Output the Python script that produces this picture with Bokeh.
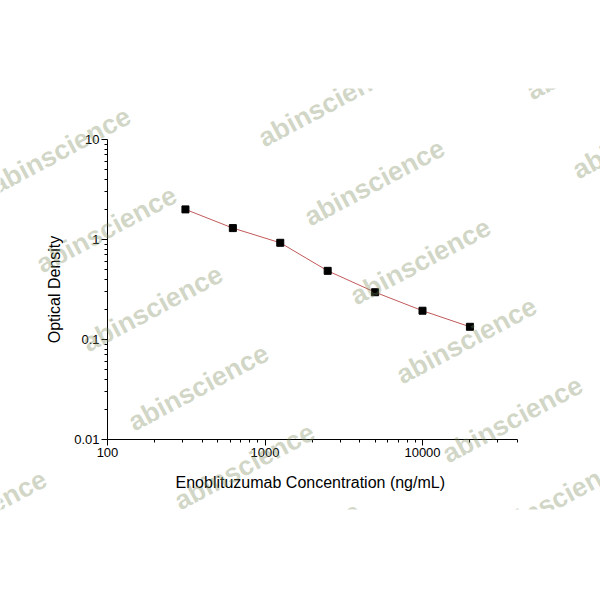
from bokeh.plotting import figure
from bokeh.models import Range1d, FixedTicker, CustomJSTickFormatter, Label, BoxAnnotation
from bokeh.embed import file_html
from bokeh.resources import INLINE

# ---- data ----
conc = [312.5, 625, 1250, 2500, 5000, 10000, 20000]
od = [2.0, 1.30, 0.927, 0.486, 0.297, 0.194, 0.134]

x_bounds = (100, 40000)
y_bounds = (0.01, 10)
x_major = [100, 1000, 10000]
x_minor = [200, 300, 400, 500, 600, 700, 800, 900,
           2000, 3000, 4000, 5000, 6000, 7000, 8000, 9000,
           20000, 30000, 40000]
y_major = [0.01, 0.1, 1, 10]
y_minor = [0.02, 0.03, 0.04, 0.05, 0.06, 0.07, 0.08, 0.09,
           0.2, 0.3, 0.4, 0.5, 0.6, 0.7, 0.8, 0.9,
           2, 3, 4, 5, 6, 7, 8, 9]

x_title = "Enoblituzumab  Concentration (ng/mL)"
y_title = "Optical Density"
watermark = "abinscience"

FONT = "Liberation Sans"

# ---- layout: the frame covers the whole canvas; axes are pinned inside it ----
W, H = 600, 600
PX_X0 = 107      # canvas x of x = 100
DEC_X = 157.5    # pixels per decade on x
PY_Y1 = 139      # canvas y of y = 10
DEC_Y = 100.0    # pixels per decade on y

x_start = 10 ** (2 - PX_X0 / DEC_X)
x_end = 10 ** (2 + (W - PX_X0) / DEC_X)
y_end = 10 ** (1 + PY_Y1 / DEC_Y)
y_start = 10 ** (1 - (H - PY_Y1) / DEC_Y)

p = figure(width=W, height=H, x_axis_type="log", y_axis_type="log",
           x_range=Range1d(x_start, x_end), y_range=Range1d(y_start, y_end),
           output_backend="svg", toolbar_location=None, title=None,
           min_border=0, min_border_left=0, min_border_right=0,
           min_border_top=0, min_border_bottom=0)
p.outline_line_color = None
p.xgrid.visible = False
p.ygrid.visible = False
p.background_fill_color = "white"
p.border_fill_color = "white"

fmt_code = "return tick.toString()"
p.xaxis.ticker = FixedTicker(ticks=x_major, minor_ticks=x_minor)
p.yaxis.ticker = FixedTicker(ticks=y_major, minor_ticks=y_minor)
p.xaxis.formatter = CustomJSTickFormatter(code=fmt_code)
p.yaxis.formatter = CustomJSTickFormatter(code=fmt_code)
p.xaxis.fixed_location = y_bounds[0]
p.yaxis.fixed_location = x_bounds[0]
p.xaxis.bounds = x_bounds
p.yaxis.bounds = y_bounds

for ax in (p.xaxis, p.yaxis):
    ax.axis_line_color = "black"
    ax.axis_line_width = 1
    ax.major_tick_line_color = "black"
    ax.minor_tick_line_color = "black"
    ax.major_tick_out = 6
    ax.major_tick_in = 0
    ax.minor_tick_out = 3
    ax.minor_tick_in = 0
    ax.major_label_text_font = FONT
    ax.major_label_text_font_size = "13px"
    ax.major_label_text_color = "black"
    ax.axis_label_text_font = FONT
    ax.axis_label_text_font_size = "16px"
    ax.axis_label_text_font_style = "normal"
    ax.axis_label_text_color = "black"

p.xaxis.axis_label = x_title
p.yaxis.axis_label = y_title
p.xaxis.major_label_standoff = 2
p.yaxis.major_label_standoff = 2
p.xaxis.axis_label_standoff = 14
p.yaxis.axis_label_standoff = 8

p.line(conc, od, line_color="#c25a5a", line_width=1)
p.scatter(conc, od, marker="square", size=7, fill_color="black", line_color="black")

# ---- watermark (screen units: x from canvas left, y up from canvas bottom) ----
origin = (60, 150)
step_a = (46, 79)
step_b = (268, -47)
for i in range(-4, 8):
    for j in range(-3, 5):
        cx = origin[0] + i * step_a[0] + j * step_b[0]
        cy = origin[1] + i * step_a[1] + j * step_b[1]
        # keep only the copies that show at least partly inside the band
        visible = -60 < cx < 660 and 55 < cy < 550 and not (cx < 100 and cy < 90)
        if visible:
            lab = Label(x=cx, y=H - cy, x_units="screen", y_units="screen",
                        text=watermark, angle=28, angle_units="deg",
                        text_align="center", text_baseline="middle",
                        text_font=FONT, text_font_style="bold", text_font_size="27px",
                        text_color="#7a8a5a", text_alpha=0.35)
            lab.level = "annotation"
            p.add_layout(lab)

# white masks: the watermark band lies only between canvas y 88 and 509
top_mask = BoxAnnotation(left=-400, right=1000, bottom=H - 88, top=2000,
                         left_units="screen", right_units="screen",
                         top_units="screen", bottom_units="screen",
                         fill_color="white", fill_alpha=1.0, line_alpha=0)
bot_mask = BoxAnnotation(left=-400, right=1000, bottom=-1000, top=H - 509,
                         left_units="screen", right_units="screen",
                         top_units="screen", bottom_units="screen",
                         fill_color="white", fill_alpha=1.0, line_alpha=0)
top_mask.level = "overlay"
bot_mask.level = "overlay"
p.add_layout(top_mask)
p.add_layout(bot_mask)

open("out.html", "w").write(file_html(p, INLINE))
